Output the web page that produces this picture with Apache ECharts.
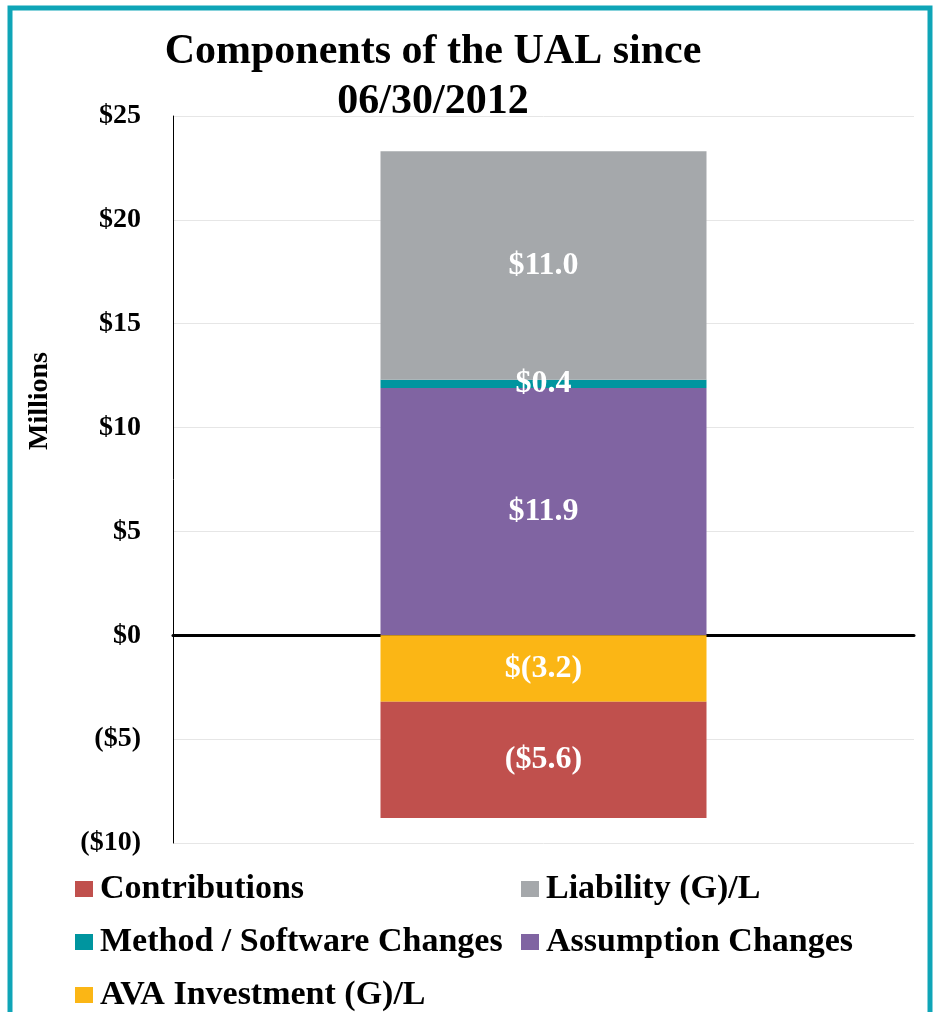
<!DOCTYPE html>
<html>
<head>
<meta charset="utf-8">
<script src="https://cdn.jsdelivr.net/npm/echarts@6/dist/echarts.min.js"></script>
<style>
  html, body { margin: 0; padding: 0; background: #fff; }
  #chart { width: 935px; height: 1012px; }
</style>
</head>
<body>
<div id="chart"></div>
<script>
// categories / series (millions of $)
const categories = ['UAL'];
const seriesNames = ['Assumption Changes', 'Method / Software Changes', 'Liability (G)/L', 'AVA Investment (G)/L', 'Contributions'];
const seriesValues = [11.9, 0.4, 11.0, -3.2, -5.6];
const seriesLabels = ['$11.9', '$0.4', '$11.0', '$(3.2)', '($5.6)'];
const seriesColors = ['#8064A2', '#00959F', '#A5A8AB', '#FBB615', '#C0504D'];
// legend order as shown
const legendOrder = ['Contributions', 'Liability (G)/L', 'Method / Software Changes', 'Assumption Changes', 'AVA Investment (G)/L'];
const yTicks = { min: -10, max: 25, interval: 5 };

const FONT = '"Liberation Serif", "Times New Roman", serif';
const myChart = echarts.init(document.getElementById('chart'));

// legend positions (two columns)
const legendPos = [[75, 872], [521, 872], [75, 925], [521, 925], [75, 978]];

const option = {
    backgroundColor: '#fff',
    animation: false,
    title: {
        text: 'Components of the UAL since\n06/30/2012',
        left: 428,
        textAlign: 'center',
        top: 22,
        textStyle: {fontFamily: FONT, fontWeight: 'bold', fontSize: 42, color: '#000', lineHeight: 50}
    },
    legend: legendOrder.map((name, i) => ({
        data: [name],
        left: legendPos[i][0],
        top: legendPos[i][1],
        icon: 'rect',
        itemWidth: 18,
        itemHeight: 16,
        itemGap: 0,
        padding: 0,
        selectedMode: false,
        textStyle: {fontFamily: FONT, fontWeight: 'bold', fontSize: 34, color: '#000', padding: [0, 0, 0, 2]}
    })),
    grid: {left: 173, right: 21, top: 116, bottom: 169, containLabel: false},
    xAxis: {
        type: 'category',
        data: categories,
        axisTick: {show: false},
        axisLabel: {show: false},
        axisLine: {onZero: true, lineStyle: {color: '#000', width: 3}}
    },
    yAxis: {
        type: 'value',
        min: yTicks.min,
        max: yTicks.max,
        interval: yTicks.interval,
        axisLine: {show: true, lineStyle: {color: '#000', width: 1}},
        axisTick: {show: false},
        splitLine: {lineStyle: {color: '#E6E6E6', width: 1}},
        axisLabel: {
            margin: 32,
            fontFamily: FONT, fontWeight: 'bold', fontSize: 28, color: '#000',
            formatter: v => v < 0 ? '($' + (-v) + ')' : '$' + v
        }
    },
    graphic: [
        {
            type: 'rect',
            silent: true,
            shape: {x: 10, y: 8, width: 920, height: 1030},
            style: {fill: 'none', stroke: '#0FA5B7', lineWidth: 5}
        },
        {
            type: 'text',
            x: 26,
            y: 401,
            rotation: Math.PI / 2,
            style: {
                text: 'Millions',
                fontFamily: FONT, fontWeight: 'bold', fontSize: 28, fill: '#000',
                align: 'center', verticalAlign: 'top'
            }
        }
    ],
    series: seriesNames.map((name, i) => ({
        name,
        type: 'bar',
        stack: 'ual',
        barWidth: 326,
        itemStyle: {color: seriesColors[i]},
        label: {
            show: true,
            position: 'inside',
            color: '#fff',
            fontFamily: FONT, fontWeight: 'bold', fontSize: 32,
            formatter: () => seriesLabels[i]
        },
        data: [seriesValues[i]]
    }))
};

myChart.setOption(option);
</script>
</body>
</html>
